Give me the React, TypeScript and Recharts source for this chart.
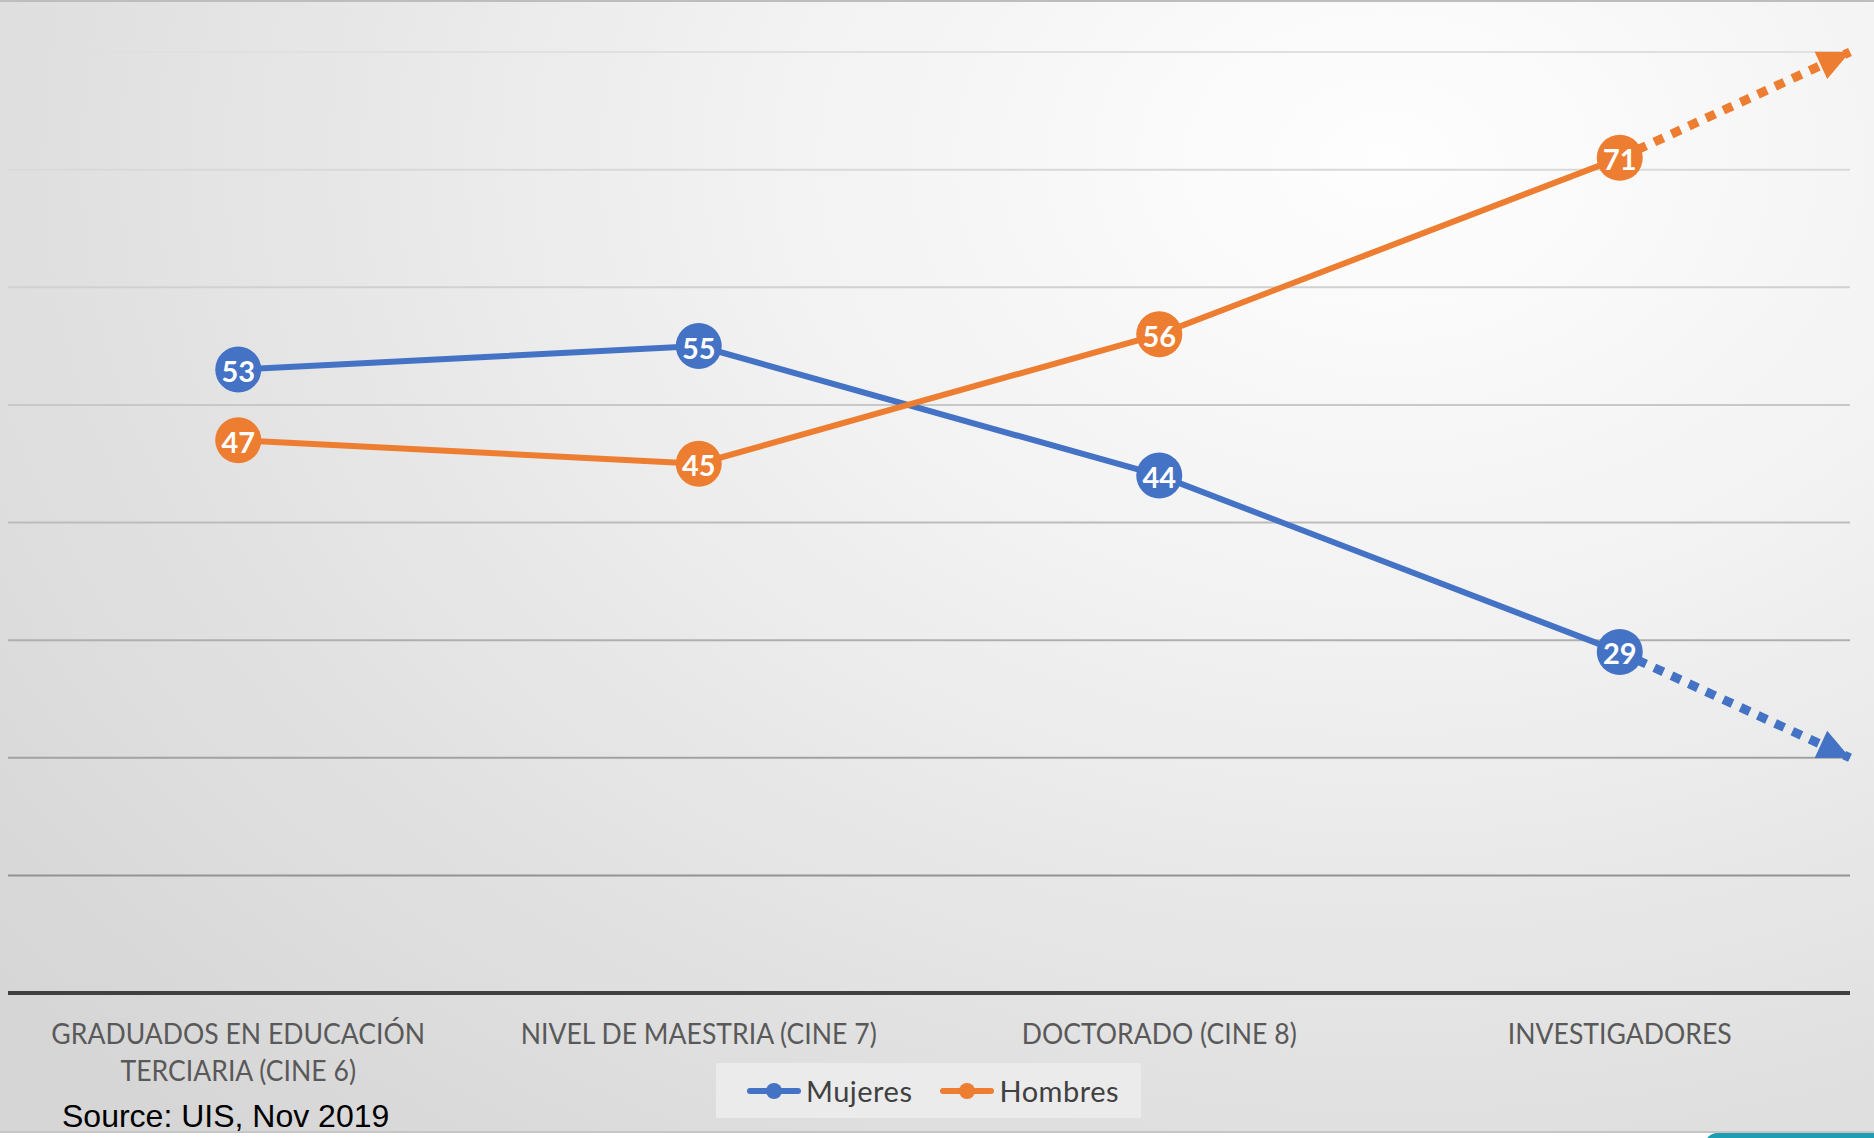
import React from 'react'
import { LineChart, Line, XAxis, YAxis, ReferenceLine, Legend } from 'recharts'

const CATEGORIES = [
  'GRADUADOS EN EDUCACIÓN TERCIARIA (CINE 6)',
  'NIVEL DE MAESTRIA (CINE 7)',
  'DOCTORADO (CINE 8)',
  'INVESTIGADORES',
]
const MUJERES = [53, 55, 44, 29]
const HOMBRES = [47, 45, 56, 71]
// where the dotted trend arrows end, at the right edge of the plot
const MUJERES_TREND_END = 20
const HOMBRES_TREND_END = 80
const Y_TICKS = [0, 10, 20, 30, 40, 50, 60, 70, 80]
const SERIES_ORDER = ['Mujeres', 'Hombres']
const SOURCE = 'Source: UIS, Nov 2019'

const BLUE = '#4472C4'
const ORANGE = '#ED7D31'
const FONT = 'Lato, "Open Sans", sans-serif'

// gridlines get darker towards the bottom
const GRID_COLORS: Record<number, string> = {
  10: '#939393',
  20: '#a2a2a2',
  30: '#afafaf',
  40: '#bcbcbc',
  50: '#c8c8c8',
  60: '#d1d1d1',
  70: '#d9d9d9',
  80: '#e0e0e0',
}

const last = CATEGORIES.length - 1
const data: any[] = CATEGORIES.map((name, i) => ({
  x: i + 0.5,
  name,
  mujeres: MUJERES[i],
  hombres: HOMBRES[i],
  mujeresTrend: i === last ? MUJERES[i] : null,
  hombresTrend: i === last ? HOMBRES[i] : null,
}))
data.push({
  x: CATEGORIES.length,
  name: '',
  mujeres: null,
  hombres: null,
  mujeresTrend: MUJERES_TREND_END,
  hombresTrend: HOMBRES_TREND_END,
})

// greedy word wrap for the category labels
function wrap(text: string, max: number) {
  const lines: string[] = []
  let cur = ''
  for (const w of text.split(' ')) {
    const next = cur ? cur + ' ' + w : w
    if (next.length > max && cur) {
      lines.push(cur)
      cur = w
    } else {
      cur = next
    }
  }
  if (cur) lines.push(cur)
  return lines
}

function CategoryTick(props: any) {
  const { x, y, payload } = props
  const label = CATEGORIES[Math.floor(payload.value)] ?? ''
  const lines = wrap(label, 27)
  return (
    <g transform={`translate(${x},${y}) scale(0.95,1)`}>
      {lines.map((line, i) => (
        <text
          key={i}
          x={0}
          y={32 + i * 37}
          textAnchor="middle"
          dominantBaseline="central"
          fill="#595959"
          fontFamily={FONT}
          fontSize={28}
        >
          {line}
        </text>
      ))}
    </g>
  )
}

const valueDot = (color: string) => (props: any) => {
  const { cx, cy, value, index } = props
  if (cx == null || cy == null || value == null) return <g key={`v-${index}`} />
  return (
    <g key={`v-${index}`}>
      <circle cx={cx} cy={cy} r={23} fill={color} />
      <text
        x={cx}
        y={cy + 1}
        textAnchor="middle"
        dominantBaseline="central"
        fill="#fff"
        fontFamily={FONT}
        fontWeight={700}
        fontSize={29}
      >
        {value}
      </text>
    </g>
  )
}

// arrowhead on the final point of a trend line, pointing along the segment
const arrowDot = (color: string) => (props: any) => {
  const { cx, cy, index, points } = props
  const prev = points && index > 0 ? points[index - 1] : null
  if (cx == null || cy == null || !prev || prev.y == null) return <g key={`a-${index}`} />
  const a = Math.atan2(cy - prev.y, cx - prev.x)
  const L = 32
  const W = 30
  const bx = cx - L * Math.cos(a)
  const by = cy - L * Math.sin(a)
  const nx = (-Math.sin(a) * W) / 2
  const ny = (Math.cos(a) * W) / 2
  const d = `M${cx},${cy} L${bx + nx},${by + ny} L${bx - nx},${by - ny} Z`
  return <path key={`a-${index}`} d={d} fill={color} />
}

function LegendContent(props: any) {
  const items = (props.payload || [])
    .filter((p: any) => p.type !== 'none')
    .sort((a: any, b: any) => SERIES_ORDER.indexOf(a.value) - SERIES_ORDER.indexOf(b.value))
  return (
    <div
      style={{
        display: 'flex',
        alignItems: 'center',
        gap: 28,
        height: 55,
        paddingLeft: 31,
        boxSizing: 'border-box',
        background: '#ebebeb',
      }}
    >
      {items.map((p: any) => (
        <div key={p.value} style={{ display: 'flex', alignItems: 'center', gap: 5 }}>
          <svg width={54} height={20}>
            <line x1={3} y1={10} x2={51} y2={10} stroke={p.color} strokeWidth={6} strokeLinecap="round" />
            <circle cx={27} cy={10} r={8} fill={p.color} />
          </svg>
          <span style={{ fontFamily: FONT, fontSize: 29, color: '#404040', letterSpacing: 0.5 }}>{p.value}</span>
        </div>
      ))}
    </div>
  )
}

export default function App() {
  return (
    <div style={{ position: 'absolute', left: 0, top: 0, width: 1874, height: 1138, background: '#fff', overflow: 'hidden' }}>
      <div
        style={{
          position: 'absolute',
          left: 0,
          top: 0,
          width: 1874,
          height: 1133,
          background: 'radial-gradient(ellipse 95% 115% at 74% 14%, #fefefe 0%, #f2f2f2 35%, #e2e2e2 70%, #d6d6d6 100%)',
          borderTop: '2px solid #bdbdbd',
          borderBottom: '2px solid #c6c6c6',
          boxSizing: 'border-box',
        }}
      />
      <div
        style={{
          position: 'absolute',
          left: 1705,
          top: 1133,
          width: 180,
          height: 12,
          background: '#1e9db3',
          borderTopLeftRadius: 60,
        }}
      />
      <div style={{ position: 'absolute', left: 0, top: 0 }}>
        <LineChart width={1874} height={1138} data={data} margin={{ top: 52, right: 24, bottom: 45, left: 8 }}>
          <YAxis hide domain={[0, 80]} ticks={Y_TICKS} />
          <XAxis
            type="number"
            dataKey="x"
            domain={[0, CATEGORIES.length]}
            ticks={CATEGORIES.map((_, i) => i + 0.5)}
            interval={0}
            height={100}
            tickLine={false}
            axisLine={{ stroke: '#404040', strokeWidth: 4 }}
            tick={<CategoryTick />}
          />
          {Y_TICKS.filter((v) => v > 0).map((v) => (
            <ReferenceLine key={v} y={v} stroke={GRID_COLORS[v]} strokeWidth={2} />
          ))}
          <Legend
            layout="horizontal"
            verticalAlign="middle"
            align="center"
            wrapperStyle={{ left: 716, top: 1063, width: 425 }}
            content={<LegendContent />}
          />
          <Line
            dataKey="hombresTrend"
            stroke={ORANGE}
            strokeWidth={9}
            strokeDasharray="10 9"
            dot={arrowDot(ORANGE)}
            activeDot={false}
            legendType="none"
            isAnimationActive={false}
          />
          <Line
            dataKey="mujeresTrend"
            stroke={BLUE}
            strokeWidth={9}
            strokeDasharray="10 9"
            dot={arrowDot(BLUE)}
            activeDot={false}
            legendType="none"
            isAnimationActive={false}
          />
          <Line
            name="Mujeres"
            dataKey="mujeres"
            stroke={BLUE}
            strokeWidth={6}
            dot={valueDot(BLUE)}
            activeDot={false}
            isAnimationActive={false}
          />
          <Line
            name="Hombres"
            dataKey="hombres"
            stroke={ORANGE}
            strokeWidth={6}
            dot={valueDot(ORANGE)}
            activeDot={false}
            isAnimationActive={false}
          />
        </LineChart>
      </div>
      <div
        style={{
          position: 'absolute',
          left: 62,
          top: 1098,
          fontFamily: '"Liberation Sans", Arial, sans-serif',
          fontSize: 32,
          lineHeight: '36px',
          color: '#000',
        }}
      >
        {SOURCE}
      </div>
    </div>
  )
}
